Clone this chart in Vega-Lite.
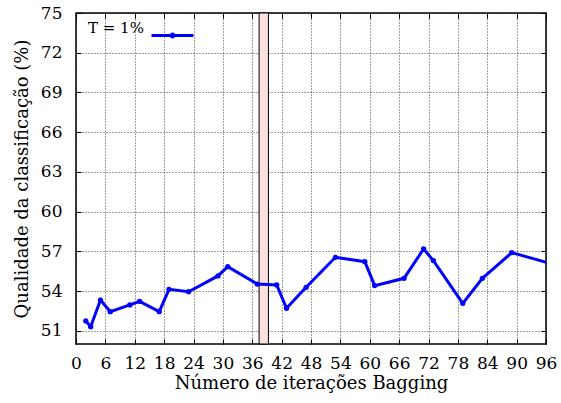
{
  "$schema": "https://vega.github.io/schema/vega-lite/v6.json",
  "width": 470,
  "height": 331,
  "autosize": {"type": "none"},
  "padding": {"left": 76, "top": 13, "right": 15, "bottom": 59},
  "config": {
    "font": "DejaVu Serif",
    "view": {"stroke": "black", "strokeWidth": 1.5},
    "axis": {
      "labelFont": "DejaVu Serif",
      "labelFontSize": 17,
      "labelColor": "black",
      "labelFlush": false,
      "labelOverlap": false,
      "titleFont": "DejaVu Serif",
      "titleFontSize": 18,
      "titleFontWeight": "normal",
      "titleColor": "black",
      "domain": false,
      "tickColor": "black",
      "tickSize": -5,
      "tickWidth": 1,
      "gridColor": "black",
      "gridDash": [1, 2],
      "gridOpacity": 0.75
    }
  },
  "datasets": {
    "serie": [
      {"n": 2, "q": 51.74, "s": "T = 1%"},
      {"n": 3, "q": 51.31, "s": "T = 1%"},
      {"n": 5, "q": 53.32, "s": "T = 1%"},
      {"n": 7, "q": 52.44, "s": "T = 1%"},
      {"n": 11, "q": 52.95, "s": "T = 1%"},
      {"n": 13, "q": 53.22, "s": "T = 1%"},
      {"n": 17, "q": 52.44, "s": "T = 1%"},
      {"n": 19, "q": 54.13, "s": "T = 1%"},
      {"n": 23, "q": 53.95, "s": "T = 1%"},
      {"n": 29, "q": 55.14, "s": "T = 1%"},
      {"n": 31, "q": 55.84, "s": "T = 1%"},
      {"n": 37, "q": 54.53, "s": "T = 1%"},
      {"n": 41, "q": 54.46, "s": "T = 1%"},
      {"n": 43, "q": 52.7, "s": "T = 1%"},
      {"n": 47, "q": 54.28, "s": "T = 1%"},
      {"n": 53, "q": 56.55, "s": "T = 1%"},
      {"n": 59, "q": 56.22, "s": "T = 1%"},
      {"n": 61, "q": 54.41, "s": "T = 1%"},
      {"n": 67, "q": 54.96, "s": "T = 1%"},
      {"n": 71, "q": 57.18, "s": "T = 1%"},
      {"n": 73, "q": 56.3, "s": "T = 1%"},
      {"n": 79, "q": 53.07, "s": "T = 1%"},
      {"n": 83, "q": 54.96, "s": "T = 1%"},
      {"n": 89, "q": 56.9, "s": "T = 1%"},
      {"n": 97, "q": 56.07, "s": "T = 1%"}
    ]
  },
  "layer": [
    {
      "data": {"values": [{"a": 37.4, "b": 39.3}]},
      "mark": {"type": "rect", "fill": "#ffe0e0", "stroke": "black", "strokeWidth": 1},
      "encoding": {
        "x": {
          "field": "a", "type": "quantitative",
          "scale": {"domain": [0, 96], "nice": false, "zero": false},
          "axis": {"orient": "top", "labels": false, "grid": false, "title": null, "values": [0,6,12,18,24,30,36,42,48,54,60,66,72,78,84,90,96]}
        },
        "x2": {"field": "b"}
      }
    },
    {
      "data": {"name": "serie"},
      "mark": {"type": "line", "strokeWidth": 3, "clip": true},
      "encoding": {
        "x": {
          "field": "n", "type": "quantitative",
          "scale": {"domain": [0, 96], "nice": false, "zero": false},
          "axis": {"orient": "bottom", "title": "Número de iterações Bagging", "values": [0,6,12,18,24,30,36,42,48,54,60,66,72,78,84,90,96], "labelPadding": 16, "titlePadding": 3, "grid": true}
        },
        "y": {
          "field": "q", "type": "quantitative",
          "scale": {"domain": [50, 75], "nice": false, "zero": false},
          "axis": {"orient": "left", "title": "Qualidade da classificação (%)", "values": [51,54,57,60,63,66,69,72,75], "labelPadding": 19, "titlePadding": 9, "grid": true}
        },
        "color": {
          "field": "s", "type": "nominal",
          "scale": {"range": ["#0000ff"]},
          "legend": {
            "orient": "none", "legendX": 12, "legendY": 0,
            "title": "T = 1%", "titleOrient": "left", "titleFontSize": 15, "titleFontWeight": "normal", "titleFont": "DejaVu Serif", "titleColor": "black", "titleBaseline": "middle", "titlePadding": 6,
            "labelExpr": "''", "labelOffset": 0,
            "symbolType": "M-1,0L1,0M-0.07,0A0.07,0.07,0,1,1,0.07,0A0.07,0.07,0,1,1,-0.07,0",
            "symbolSize": 1764, "symbolStrokeWidth": 3
          }
        }
      }
    },
    {
      "data": {"name": "serie"},
      "mark": {"type": "point", "filled": true, "size": 28, "color": "#0000ff", "opacity": 1, "clip": true},
      "encoding": {
        "x": {
          "field": "n", "type": "quantitative",
          "scale": {"domain": [0, 96], "nice": false, "zero": false},
          "axis": {"orient": "top", "labels": false, "grid": false, "title": null, "values": [0,6,12,18,24,30,36,42,48,54,60,66,72,78,84,90,96]}
        },
        "y": {
          "field": "q", "type": "quantitative",
          "scale": {"domain": [50, 75], "nice": false, "zero": false},
          "axis": {"orient": "right", "labels": false, "grid": false, "title": null, "values": [51,54,57,60,63,66,69,72,75]}
        }
      }
    }
  ]
}
